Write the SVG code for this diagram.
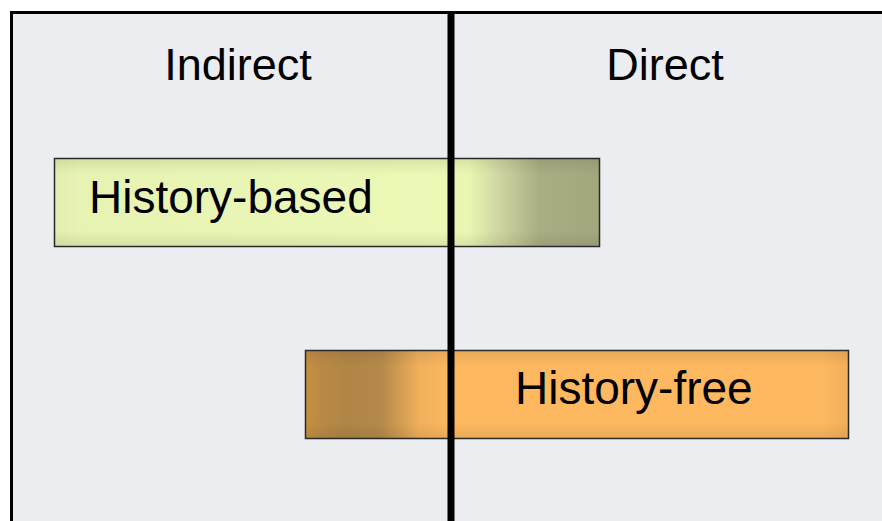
<svg xmlns="http://www.w3.org/2000/svg" width="882" height="521" viewBox="0 0 882 521">
  <defs>
    <style>
      .label { font-family: "Liberation Sans", Arial, sans-serif; fill: #000; }
      .head { font-size: 45px; text-anchor: middle; }
      .bar-text { font-size: 46px; }
      .bar-edge { fill: none; stroke: #2a2a2a; stroke-width: 1.5; }
    </style>
    <!-- horizontal colour sweep of the upper bar -->
    <linearGradient id="gradHist" x1="54" y1="0" x2="600" y2="0" gradientUnits="userSpaceOnUse">
      <stop offset="0" stop-color="#E2EDB0"/>
      <stop offset="0.05" stop-color="#E7F3B3"/>
      <stop offset="0.70" stop-color="#EBF8B6"/>
      <stop offset="0.76" stop-color="#E9F6B2"/>
      <stop offset="0.82" stop-color="#CDD39F"/>
      <stop offset="0.89" stop-color="#A8AD83"/>
      <stop offset="1" stop-color="#A2A77E"/>
    </linearGradient>
    <!-- horizontal colour sweep of the lower bar -->
    <linearGradient id="gradFree" x1="305" y1="0" x2="849" y2="0" gradientUnits="userSpaceOnUse">
      <stop offset="0" stop-color="#C8913F"/>
      <stop offset="0.03" stop-color="#B88A45"/>
      <stop offset="0.08" stop-color="#B08545"/>
      <stop offset="0.14" stop-color="#B5894A"/>
      <stop offset="0.21" stop-color="#F0B05C"/>
      <stop offset="0.27" stop-color="#FDB860"/>
      <stop offset="0.95" stop-color="#FDB860"/>
      <stop offset="1" stop-color="#F2AE5A"/>
    </linearGradient>
    <!-- soft darkening along top and bottom edges of a bar -->
    <linearGradient id="edgeShade" x1="0" y1="0" x2="0" y2="1">
      <stop offset="0" stop-color="#000" stop-opacity="0.08"/>
      <stop offset="0.18" stop-color="#000" stop-opacity="0"/>
      <stop offset="0.82" stop-color="#000" stop-opacity="0"/>
      <stop offset="1" stop-color="#000" stop-opacity="0.08"/>
    </linearGradient>
  </defs>

  <rect x="0" y="0" width="882" height="521" fill="#FFFFFF"/>

  <!-- framed panel -->
  <g id="panel">
    <rect x="11.5" y="12.5" width="880" height="520" fill="#ECEDF0" stroke="#000" stroke-width="3"/>
  </g>

  <!-- column headings -->
  <g id="heading-indirect">
    <text class="label head" x="238" y="80">Indirect</text>
  </g>
  <g id="heading-direct">
    <text class="label head" x="665" y="80">Direct</text>
  </g>

  <!-- upper bar -->
  <g id="history-based">
    <rect x="54.5" y="158.5" width="545" height="88" fill="url(#gradHist)"/>
    <rect x="54.5" y="158.5" width="545" height="88" fill="url(#edgeShade)"/>
    <rect class="bar-edge" x="54.5" y="158.5" width="545" height="88"/>
    <text class="label bar-text" x="89" y="213">History-based</text>
  </g>

  <!-- lower bar -->
  <g id="history-free">
    <rect x="305.5" y="350.5" width="543" height="88" fill="url(#gradFree)"/>
    <rect x="305.5" y="350.5" width="543" height="88" fill="url(#edgeShade)"/>
    <rect class="bar-edge" x="305.5" y="350.5" width="543" height="88"/>
    <text class="label bar-text" x="515" y="404">History-free</text>
  </g>

  <!-- dividing line between the two columns -->
  <g id="connectors">
    <line x1="451" y1="11" x2="451" y2="521" stroke="#000" stroke-width="7"/>
  </g>
</svg>
